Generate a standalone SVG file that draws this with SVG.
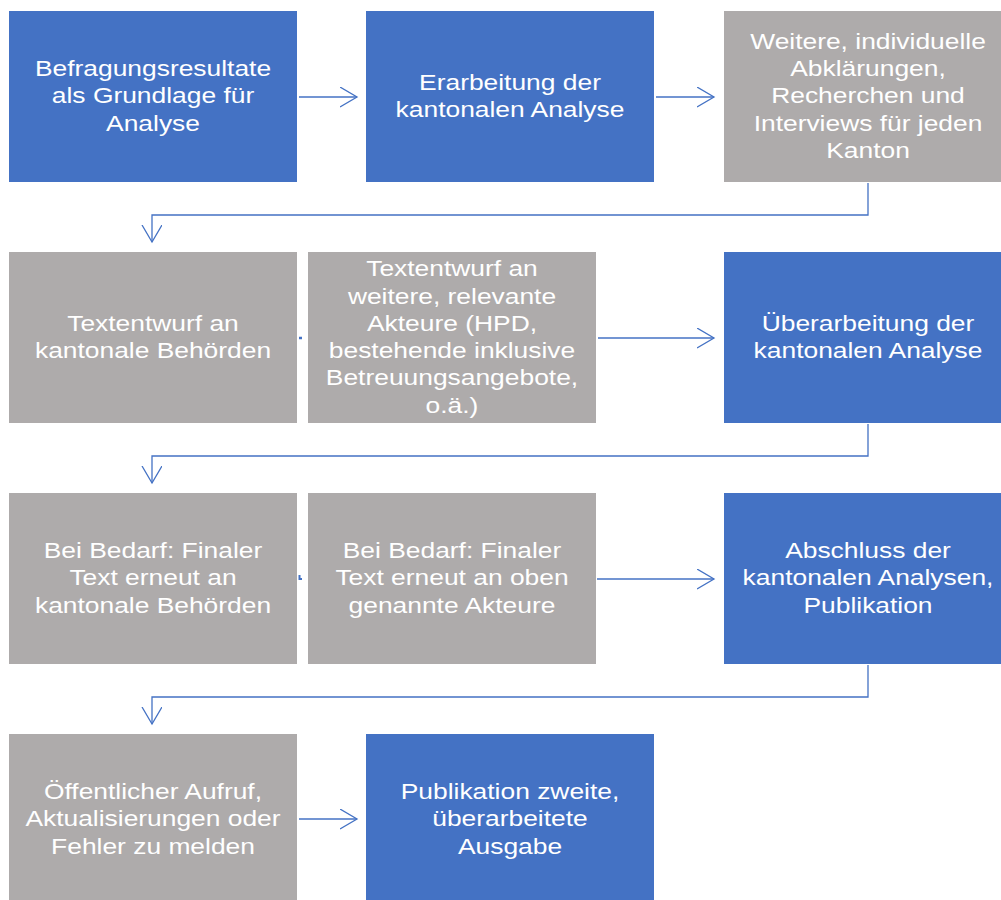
<svg xmlns="http://www.w3.org/2000/svg" width="1001" height="900" viewBox="0 0 1001 900">
<defs>
<style>
.blue{fill:#4472C4}
.gray{fill:#AEABAB}
.t{font-family:"Liberation Sans",Arial,sans-serif;font-size:22px;fill:#FFFFFF;text-anchor:middle}
.c{fill:none;stroke:#4472C4;stroke-width:1.3}
</style>
<marker id="ah" markerUnits="userSpaceOnUse" markerWidth="22" markerHeight="24" refX="17" refY="10" orient="auto">
<path d="M0,0 L17,10 L0,20" fill="none" stroke="#4472C4" stroke-width="1.3"/>
</marker>
</defs>
<rect width="1001" height="900" fill="#FFFFFF"/>
<g id="connectors">
<path class="c" d="M299,97 H357" marker-end="url(#ah)"/>
<path class="c" d="M656,97 H714" marker-end="url(#ah)"/>
<path class="c" d="M868,183 V215 H152 V242" marker-end="url(#ah)"/>
<path d="M299,338 H302" stroke="#4472C4" stroke-width="2.5"/>
<path class="c" d="M598,338 H714" marker-end="url(#ah)"/>
<path class="c" d="M868,424 V456 H152 V483" marker-end="url(#ah)"/>
<path d="M299.5,575 V579 H302" fill="none" stroke="#4472C4" stroke-width="2"/>
<path class="c" d="M597,579 H714" marker-end="url(#ah)"/>
<path class="c" d="M868,665 V697 H152 V724" marker-end="url(#ah)"/>
<path class="c" d="M299,819 H357" marker-end="url(#ah)"/>
</g>
<g id="n1"><rect class="blue" x="9" y="11" width="288" height="171"/>
<g transform="translate(153,0) scale(1.2,1)"><text class="t"><tspan x="0" y="76.2">Befragungsresultate</tspan><tspan x="0" y="103.5">als Grundlage für</tspan><tspan x="0" y="130.8">Analyse</tspan></text></g></g>
<g id="n2"><rect class="blue" x="366" y="11" width="288" height="171"/>
<g transform="translate(510,0) scale(1.2,1)"><text class="t"><tspan x="0" y="89.9">Erarbeitung der</tspan><tspan x="0" y="117.2">kantonalen Analyse</tspan></text></g></g>
<g id="n3"><rect class="gray" x="724" y="11" width="288" height="171"/>
<g transform="translate(868,0) scale(1.2,1)"><text class="t"><tspan x="0" y="48.9">Weitere, individuelle</tspan><tspan x="0" y="76.2">Abklärungen,</tspan><tspan x="0" y="103.5">Recherchen und</tspan><tspan x="0" y="130.8">Interviews für jeden</tspan><tspan x="0" y="158.1">Kanton</tspan></text></g></g>
<g id="n4"><rect class="gray" x="9" y="252" width="288" height="171"/>
<g transform="translate(153,0) scale(1.2,1)"><text class="t"><tspan x="0" y="330.9">Textentwurf an</tspan><tspan x="0" y="358.2">kantonale Behörden</tspan></text></g></g>
<g id="n5"><rect class="gray" x="308" y="252" width="288" height="171"/>
<g transform="translate(452,0) scale(1.2,1)"><text class="t"><tspan x="0" y="276.3">Textentwurf an</tspan><tspan x="0" y="303.6">weitere, relevante</tspan><tspan x="0" y="330.9">Akteure (HPD,</tspan><tspan x="0" y="358.2">bestehende inklusive</tspan><tspan x="0" y="385.5">Betreuungsangebote,</tspan><tspan x="0" y="412.8">o.ä.)</tspan></text></g></g>
<g id="n6"><rect class="blue" x="724" y="252" width="288" height="171"/>
<g transform="translate(868,0) scale(1.2,1)"><text class="t"><tspan x="0" y="330.9">Überarbeitung der</tspan><tspan x="0" y="358.2">kantonalen Analyse</tspan></text></g></g>
<g id="n7"><rect class="gray" x="9" y="493" width="288" height="171"/>
<g transform="translate(153,0) scale(1.2,1)"><text class="t"><tspan x="0" y="558.2">Bei Bedarf: Finaler</tspan><tspan x="0" y="585.5">Text erneut an</tspan><tspan x="0" y="612.8">kantonale Behörden</tspan></text></g></g>
<g id="n8"><rect class="gray" x="308" y="493" width="288" height="171"/>
<g transform="translate(452,0) scale(1.2,1)"><text class="t"><tspan x="0" y="558.2">Bei Bedarf: Finaler</tspan><tspan x="0" y="585.5">Text erneut an oben</tspan><tspan x="0" y="612.8">genannte Akteure</tspan></text></g></g>
<g id="n9"><rect class="blue" x="724" y="493" width="288" height="171"/>
<g transform="translate(868,0) scale(1.2,1)"><text class="t"><tspan x="0" y="558.2">Abschluss der</tspan><tspan x="0" y="585.5">kantonalen Analysen,</tspan><tspan x="0" y="612.8">Publikation</tspan></text></g></g>
<g id="n10"><rect class="gray" x="9" y="734" width="288" height="171"/>
<g transform="translate(153,0) scale(1.2,1)"><text class="t"><tspan x="0" y="799.2">Öffentlicher Aufruf,</tspan><tspan x="0" y="826.5">Aktualisierungen oder</tspan><tspan x="0" y="853.8">Fehler zu melden</tspan></text></g></g>
<g id="n11"><rect class="blue" x="366" y="734" width="288" height="171"/>
<g transform="translate(510,0) scale(1.2,1)"><text class="t"><tspan x="0" y="799.2">Publikation zweite,</tspan><tspan x="0" y="826.5">überarbeitete</tspan><tspan x="0" y="853.8">Ausgabe</tspan></text></g></g>
</svg>
